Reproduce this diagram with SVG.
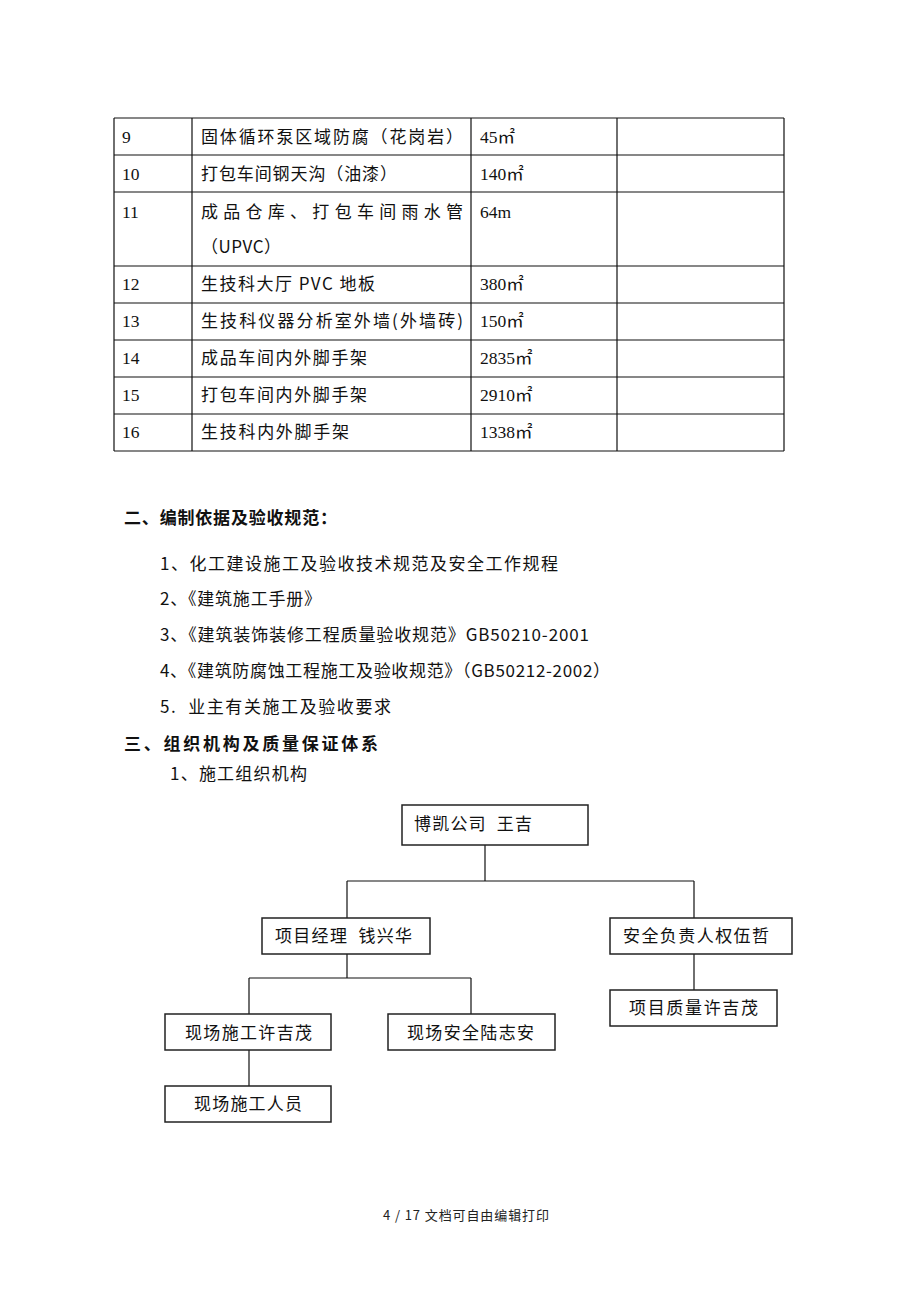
<svg xmlns="http://www.w3.org/2000/svg" width="920" height="1302" viewBox="0 0 920 1302">
<style>
.t{font-family:"Liberation Serif","Noto Sans CJK SC",serif;font-size:17.5px;fill:#111}
.c{font-family:"Noto Sans CJK SC",sans-serif;font-size:17px;fill:#111}
.h{font-family:"Noto Sans CJK SC",sans-serif;font-size:17px;font-weight:bold;fill:#111}
.ln{stroke:#111;stroke-width:1.2;fill:none}
.box{fill:#fff;stroke:#222;stroke-width:1.5}
.f{font-family:"Noto Sans CJK SC","Liberation Sans",sans-serif;font-size:13px;fill:#222}
</style>
<rect width="920" height="1302" fill="#fff"/>
<g id="table">
<path class="ln" d="M114 118H784M114 155H784M114 192H784M114 266H784M114 303H784M114 340H784M114 377H784M114 414H784M114 451H784M114 118V451M192 118V451M471 118V451M617 118V451M784 118V451"/>
<text class="t" x="122" y="143">9</text>
<text class="c" x="201" y="143" textLength="262">固体循环泵区域防腐（花岗岩）</text>
<text class="t" x="480" y="143">45㎡</text>
<text class="t" x="122" y="180">10</text>
<text class="c" x="201" y="180" textLength="196">打包车间钢天沟（油漆）</text>
<text class="t" x="480" y="180">140㎡</text>
<text class="t" x="122" y="218">11</text>
<text class="c" x="201" y="218" textLength="262">成品仓库、打包车间雨水管</text>
<text class="t" x="480" y="218">64m</text>
<text class="c" x="201" y="253" textLength="80">（UPVC）</text>
<text class="t" x="122" y="290">12</text>
<text class="c" x="201" y="290" textLength="174">生技科大厅 PVC 地板</text>
<text class="t" x="480" y="290">380㎡</text>
<text class="t" x="122" y="327">13</text>
<text class="c" x="201" y="327" textLength="262">生技科仪器分析室外墙(外墙砖)</text>
<text class="t" x="480" y="327">150㎡</text>
<text class="t" x="122" y="364">14</text>
<text class="c" x="201" y="364" textLength="166">成品车间内外脚手架</text>
<text class="t" x="480" y="364">2835㎡</text>
<text class="t" x="122" y="401">15</text>
<text class="c" x="201" y="401" textLength="166">打包车间内外脚手架</text>
<text class="t" x="480" y="401">2910㎡</text>
<text class="t" x="122" y="438">16</text>
<text class="c" x="201" y="438" textLength="148">生技科内外脚手架</text>
<text class="t" x="480" y="438">1338㎡</text>
</g>
<g id="text">
<text class="h" x="124" y="524" textLength="213">二、编制依据及验收规范：</text>
<text class="c" x="160" y="570" textLength="398">1、化工建设施工及验收技术规范及安全工作规程</text>
<text class="c" x="160" y="605" textLength="161">2、《建筑施工手册》</text>
<text class="c" x="160" y="641" textLength="429">3、《建筑装饰装修工程质量验收规范》GB50210-2001</text>
<text class="c" x="160" y="677" textLength="450">4、《建筑防腐蚀工程施工及验收规范》（GB50212-2002）</text>
<text class="c" x="160" y="713" textLength="231" xml:space="preserve">5.  业主有关施工及验收要求</text>
<text class="h" x="124" y="750" textLength="254">三、组织机构及质量保证体系</text>
<text class="c" x="170" y="780" textLength="137">1、施工组织机构</text>
</g>
<g id="connectors">
<path class="ln" d="M485 845V881M347 881H694M347 881V918M694 881V918M347 954V978M249 978H471M249 978V1014M471 978V1014M694 954V990M249 1050V1086"/>
</g>
<g id="n1"><rect class="box" x="402" y="805" width="186" height="40"/><text class="c" x="414" y="830" textLength="118" xml:space="preserve">博凯公司  王吉</text></g>
<g id="n2"><rect class="box" x="262" y="918" width="168" height="36"/><text class="c" x="275" y="942" textLength="137" xml:space="preserve">项目经理  钱兴华</text></g>
<g id="n3"><rect class="box" x="610" y="918" width="182" height="36"/><text class="c" x="623" y="942" textLength="146">安全负责人权伍哲</text></g>
<g id="n4"><rect class="box" x="165" y="1014" width="166" height="36"/><text class="c" x="185" y="1039" textLength="127">现场施工许吉茂</text></g>
<g id="n5"><rect class="box" x="388" y="1014" width="167" height="36"/><text class="c" x="407" y="1039" textLength="127">现场安全陆志安</text></g>
<g id="n6"><rect class="box" x="610" y="990" width="167" height="36"/><text class="c" x="629" y="1014" textLength="129">项目质量许吉茂</text></g>
<g id="n7"><rect class="box" x="165" y="1086" width="166" height="36"/><text class="c" x="194" y="1110" textLength="108">现场施工人员</text></g>
<g id="footer"><text class="f" x="383" y="1220" textLength="166">4 / 17 文档可自由编辑打印</text></g>
</svg>
